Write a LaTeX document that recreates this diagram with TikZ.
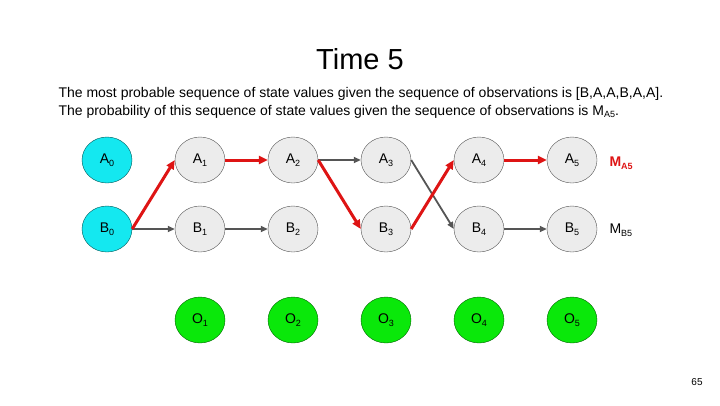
\documentclass[tikz,border=0pt]{standalone}
\usepackage{fontspec}
\setmainfont{Liberation Sans}
\usetikzlibrary{arrows.meta,shapes.geometric}
\definecolor{stategray}{RGB}{236,236,236}
\definecolor{edgegray}{RGB}{85,85,85}
\definecolor{startcyan}{RGB}{20,232,240}
\definecolor{obsgreen}{RGB}{10,232,10}
\definecolor{pathred}{RGB}{222,20,20}
\newcommand{\lowsub}[1]{\raisebox{-2.5pt}{\fontsize{9}{10}\selectfont #1}}
\newcommand{\st}[2]{#1\lowsub{#2}}
\begin{document}
\begin{tikzpicture}[x=1pt,y=-1pt,
  state/.style={ellipse,draw=edgegray,fill=stategray,minimum width=50pt,minimum height=46pt,inner sep=0pt,font=\fontsize{14}{16}\selectfont},
  start/.style={state,fill=startcyan,draw=teal!70!black},
  obs/.style={state,fill=obsgreen,draw=green!40!black},
  back/.style={draw=edgegray,line width=1.8pt,-{Triangle[length=7pt,width=6pt]}},
  best/.style={draw=pathred,line width=3pt,-{Triangle[length=9pt,width=8pt]}}]
  \useasboundingbox (0,0) rectangle (720,405);
  % title and text
  \node[anchor=base] (title) at (360,69) {\fontsize{29}{33}\selectfont Time 5};
  \node[anchor=base west,font=\fontsize{14}{16}\selectfont] (line1) at (55,97)
    {The most probable sequence of state values given the sequence of observations is [B,A,A,B,A,A].};
  \node[anchor=base west,font=\fontsize{14}{16}\selectfont] (line2) at (55,115)
    {The probability of this sequence of state values given the sequence of observations is M\lowsub{A5}.};
  % states
  \node[start] (a0) at (107,160) {\st{A}{0}};
  \node[start] (b0) at (107,229) {\st{B}{0}};
  \node[state] (a1) at (200,160) {\st{A}{1}};
  \node[state] (b1) at (200,229) {\st{B}{1}};
  \node[state] (a2) at (293,160) {\st{A}{2}};
  \node[state] (b2) at (293,229) {\st{B}{2}};
  \node[state] (a3) at (386,160) {\st{A}{3}};
  \node[state] (b3) at (386,229) {\st{B}{3}};
  \node[state] (a4) at (479,160) {\st{A}{4}};
  \node[state] (b4) at (479,229) {\st{B}{4}};
  \node[state] (a5) at (572,160) {\st{A}{5}};
  \node[state] (b5) at (572,229) {\st{B}{5}};
  % observations
  \node[obs] (o1) at (200,320) {\st{O}{1}};
  \node[obs] (o2) at (293,320) {\st{O}{2}};
  \node[obs] (o3) at (386,320) {\st{O}{3}};
  \node[obs] (o4) at (479,320) {\st{O}{4}};
  \node[obs] (o5) at (572,320) {\st{O}{5}};
  % M values
  \node[anchor=west,text=pathred,font=\fontsize{14}{16}\selectfont\bfseries] (ma5) at (606,163) {M\lowsub{A5}};
  \node[anchor=west,font=\fontsize{14}{16}\selectfont] (mb5) at (606,230) {M\lowsub{B5}};
  % back pointers
  \draw[back] (b0.east) -- (b1.west);
  \draw[back] (b1.east) -- (b2.west);
  \draw[back] (a2.east) -- (a3.west);
  \draw[back] (a3.east) -- (b4.west);
  \draw[back] (b4.east) -- (b5.west);
  % best path
  \draw[best] (b0.east) -- (a1.west);
  \draw[best] (a1.east) -- (a2.west);
  \draw[best] (a2.east) -- (b3.west);
  \draw[best] (b3.east) -- (a4.west);
  \draw[best] (a4.east) -- (a5.west);
  % page number
  \node[font=\fontsize{10}{12}\selectfont] (page) at (697,382) {65};
\end{tikzpicture}
\end{document}
